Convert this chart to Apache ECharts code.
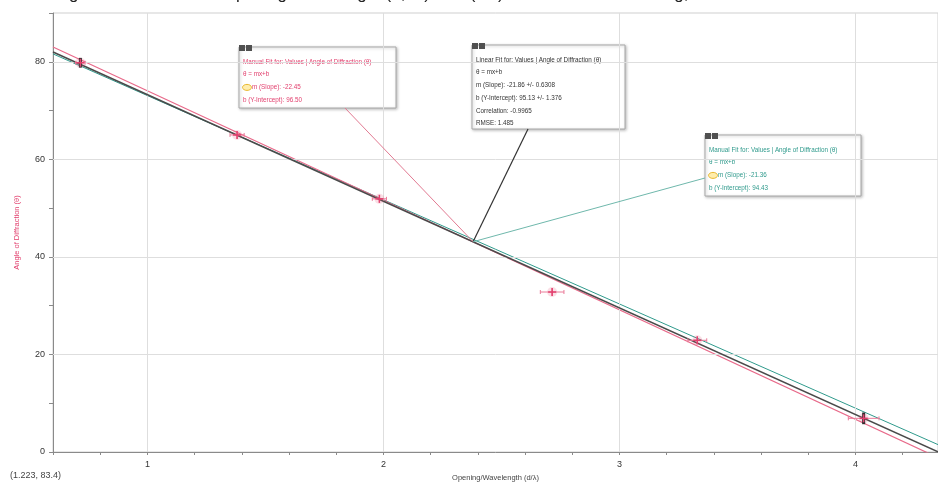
<!DOCTYPE html>
<html>
<head>
<meta charset="utf-8">
<script src="https://cdn.jsdelivr.net/npm/echarts@6/dist/echarts.min.js"></script>
<style>
  html, body { margin: 0; padding: 0; background: #ffffff; }
  #chart { width: 938px; height: 482px; }
</style>
</head>
<body>
<div id="chart"></div>
<script>
// Measured points: opening/wavelength ratio vs. angle of diffraction
const openingRatio = [0.716, 1.38, 1.983, 2.715, 3.33, 4.035];
const diffractionAngle = [79.8, 65.0, 51.9, 32.8, 22.9, 6.9];
const ratioError = [0.02, 0.03, 0.03, 0.05, 0.04, 0.065];
const angleError = [1.0, 0.8, 0.8, 0.8, 0.8, 1.2];
const darkBarPoints = [0, 5];

// Fit lines: linear regression, manual fit A, manual fit B
const fitSlopes = [-21.86, -22.45, -21.36];
const fitIntercepts = [95.13, 96.50, 94.43];
const fitAnchorX = 2.38;

// Axis ticks
const xMajorTicks = [1, 2, 3, 4];
const yMajorTicks = [0, 20, 40, 60, 80];
const xRange = [0.6, 4.35];
const yRange = [0, 90];

const chart = echarts.init(document.getElementById('chart'));
const FONT = '"Liberation Sans", Arial, sans-serif';
const RED = '#e2406e';
const TEAL = '#2f9a8c';
const DARK = '#4a4a4a';

function fitLine(i) {
  return xRange.map(x => [x, fitSlopes[i] * x + fitIntercepts[i]]);
}

const isMajor = (v, list) => list.some(t => Math.abs(t - v) < 1e-6);

const option = {
  animation: false,
  backgroundColor: '#ffffff',
  grid: {
    left: 53, top: 13, right: 0, bottom: 30,
    containLabel: false, outerBoundsMode: 'none',
    show: true, borderColor: '#cfcfcf', borderWidth: 1
  },
  xAxis: {
    type: 'value', min: xRange[0], max: xRange[1], interval: 0.2,
    name: 'Opening/Wavelength (d/λ)', nameLocation: 'middle', nameGap: 22,
    nameTextStyle: { fontFamily: FONT, fontSize: 7.5, color: '#444' },
    axisLine: { lineStyle: { color: '#8a8a8a', width: 1 } },
    axisTick: { lineStyle: { color: '#8a8a8a' }, length: 3 },
    axisLabel: {
      fontFamily: FONT, fontSize: 9, color: '#333', margin: 8,
      formatter: v => isMajor(v, xMajorTicks) ? String(Math.round(v)) : ''
    },
    splitLine: { show: false }
  },
  yAxis: {
    type: 'value', min: yRange[0], max: yRange[1], interval: 10,
    name: 'Angle of Diffraction (θ)', nameLocation: 'middle', nameGap: 32, nameRotate: 90,
    nameTextStyle: { fontFamily: FONT, fontSize: 7.5, color: RED },
    axisLine: { show: true, lineStyle: { color: '#8a8a8a', width: 1 } },
    axisTick: { show: true, lineStyle: { color: '#8a8a8a' }, length: 4 },
    axisLabel: {
      fontFamily: FONT, fontSize: 9, color: '#333', margin: 8,
      formatter: v => isMajor(v, yMajorTicks) ? String(Math.round(v)) : ''
    },
    splitLine: { show: false }
  },
  series: [
    {
      // grid lines at major ticks
      type: 'line', data: [], silent: true,
      markLine: {
        silent: true, symbol: 'none', label: { show: false },
        lineStyle: { color: '#dedede', width: 1, type: 'solid' },
        data: xMajorTicks.map(v => ({ xAxis: v }))
          .concat(yMajorTicks.filter(v => v > 0).map(v => ({ yAxis: v })))
      }
    },
    {
      name: 'Manual Fit B', type: 'line', data: fitLine(2), symbol: 'none',
      lineStyle: { color: TEAL, width: 1 }, z: 3
    },
    {
      name: 'Manual Fit A', type: 'line', data: fitLine(1), symbol: 'none',
      lineStyle: { color: '#e86a8a', width: 1.2 }, z: 4
    },
    {
      name: 'Linear Fit', type: 'line', data: fitLine(0), symbol: 'none',
      lineStyle: { color: DARK, width: 1.6 }, z: 5
    },
    {
      name: 'Values', type: 'custom', z: 6,
      data: openingRatio.map((x, i) => [x, diffractionAngle[i], ratioError[i], angleError[i]]),
      renderItem: function (params, api) {
        const x = api.value(0), y = api.value(1), xe = api.value(2), ye = api.value(3);
        const c = api.coord([x, y]);
        const l = api.coord([x - xe, y]);
        const r = api.coord([x + xe, y]);
        const t = api.coord([x, y + ye]);
        const b = api.coord([x, y - ye]);
        const dark = darkBarPoints.indexOf(params.dataIndex) >= 0;
        const pink = { stroke: '#ea7a98', lineWidth: 1 };
        return {
          type: 'group',
          children: [
            { type: 'circle', shape: { cx: c[0], cy: c[1], r: 5 }, style: { fill: 'rgba(230,70,110,0.18)' } },
            { type: 'line', shape: { x1: l[0], y1: l[1], x2: r[0], y2: r[1] }, style: pink },
            { type: 'line', shape: { x1: l[0], y1: l[1] - 2, x2: l[0], y2: l[1] + 2 }, style: pink },
            { type: 'line', shape: { x1: r[0], y1: r[1] - 2, x2: r[0], y2: r[1] + 2 }, style: pink },
            { type: 'line', shape: { x1: t[0], y1: t[1], x2: b[0], y2: b[1] },
              style: dark ? { stroke: '#2e2e2e', lineWidth: 3 } : pink },
            { type: 'line', shape: { x1: c[0] - 4, y1: c[1], x2: c[0] + 4, y2: c[1] }, style: { stroke: RED, lineWidth: 1.5 } },
            { type: 'line', shape: { x1: c[0], y1: c[1] - 4, x2: c[0], y2: c[1] + 4 }, style: { stroke: RED, lineWidth: 1.5 } }
          ]
        };
      }
    }
  ]
};

chart.setOption(option);

// Annotation boxes with leader lines to the fits
const anchor = chart.convertToPixel({ gridIndex: 0 }, [fitAnchorX, fitSlopes[0] * fitAnchorX + fitIntercepts[0]]);

function fmt(v) { return v.toFixed(2); }

function box(x, y, w, h, color, lines, slopeLine) {
  const children = [
    { type: 'rect', shape: { x: x, y: y, width: w, height: h },
      style: { fill: '#ffffff', stroke: '#a8a8a8', lineWidth: 1, shadowBlur: 3, shadowColor: 'rgba(0,0,0,0.25)', shadowOffsetX: 1, shadowOffsetY: 1 } },
    { type: 'rect', shape: { x: x, y: y - 2, width: 6, height: 6 }, style: { fill: '#505050' } },
    { type: 'rect', shape: { x: x + 7, y: y - 2, width: 6, height: 6 }, style: { fill: '#505050' } }
  ];
  lines.forEach((txt, i) => {
    const ty = y + 15 + 12.7 * i;
    let tx = x + 4;
    if (i === slopeLine) {
      children.push({ type: 'ellipse', shape: { cx: x + 8, cy: ty, rx: 4.5, ry: 3 },
        style: { fill: 'rgba(255,220,90,0.5)', stroke: '#e8b830', lineWidth: 1 } });
      tx = x + 13;
    }
    children.push({ type: 'text', x: tx, y: ty,
      style: { text: txt, fill: color, font: '6.3px ' + FONT, verticalAlign: 'middle', align: 'left' } });
  });
  return { type: 'group', children: children };
}

const graphic = [
  // page title, running off the top edge
  { type: 'text', left: 'center', top: -14,
    style: { text: 'Angle of Diffraction vs. Opening/Wavelength (θ, m) with (d/λ) for a Diffraction Grating, Linear Fit and Manual Fits',
             fill: '#222', font: '17px ' + FONT } },
  // cursor readout
  { type: 'text', x: 10, y: 476,
    style: { text: '(1.223, 83.4)', fill: '#444', font: '9px ' + FONT, verticalAlign: 'middle' } },
  // leaders
  { type: 'line', shape: { x1: anchor[0], y1: anchor[1], x2: 345, y2: 108 }, style: { stroke: '#e27a92', lineWidth: 1 }, z: 10 },
  { type: 'line', shape: { x1: anchor[0], y1: anchor[1], x2: 528, y2: 129 }, style: { stroke: '#333', lineWidth: 1.2 }, z: 10 },
  { type: 'line', shape: { x1: anchor[0], y1: anchor[1], x2: 705, y2: 178 }, style: { stroke: '#6fb8ac', lineWidth: 1 }, z: 10 },
  Object.assign(box(239, 47, 157, 61, RED, [
    'Manual Fit for: Values | Angle of Diffraction (θ)',
    'θ = mx+b',
    'm (Slope): ' + fmt(fitSlopes[1]),
    'b (Y-Intercept): ' + fmt(fitIntercepts[1])
  ], 2), { z: 20 }),
  Object.assign(box(472, 45, 153, 84, '#333', [
    'Linear Fit for: Values | Angle of Diffraction (θ)',
    'θ = mx+b',
    'm (Slope): ' + fmt(fitSlopes[0]) + ' +/- 0.6308',
    'b (Y-Intercept): ' + fmt(fitIntercepts[0]) + ' +/- 1.376',
    'Correlation: -0.9965',
    'RMSE: 1.485'
  ], -1), { z: 20 }),
  Object.assign(box(705, 135, 156, 61, TEAL, [
    'Manual Fit for: Values | Angle of Diffraction (θ)',
    'θ = mx+b',
    'm (Slope): ' + fmt(fitSlopes[2]),
    'b (Y-Intercept): ' + fmt(fitIntercepts[2])
  ], 2), { z: 20 })
];

chart.setOption({ graphic: graphic });
</script>
</body>
</html>
